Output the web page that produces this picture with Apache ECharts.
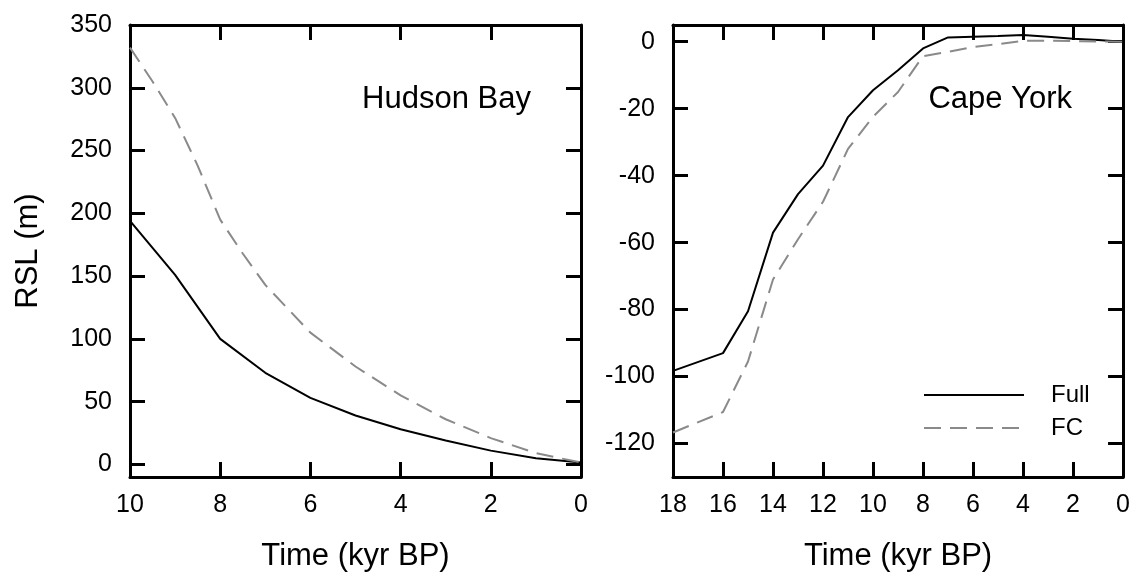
<!DOCTYPE html>
<html>
<head>
<meta charset="utf-8">
<script src="https://cdn.jsdelivr.net/npm/echarts@6/dist/echarts.min.js"></script>
<style>
  html, body { margin: 0; padding: 0; background: #fff; }
  #chart { width: 1133px; height: 577px; }
</style>
</head>
<body>
<div id="chart"></div>
<script>
// Hudson Bay (left panel)
const hbFullTime = [10, 9, 8, 7, 6, 5, 4, 3, 2, 1, 0];
const hbFullRsl = [194, 151, 100, 73, 53, 39, 28, 19, 11, 5, 1.5];
const hbFcTime = [10, 9.5, 9, 8.5, 8, 7.5, 7, 6, 5, 4, 3, 2, 1, 0];
const hbFcRsl = [332, 305, 276, 238, 195, 168, 143, 105, 78, 55, 36, 21, 9, 1.5];
const hbTicks = [0, 50, 100, 150, 200, 250, 300, 350];

// Cape York (right panel)
const cyTime = [18, 16, 15, 14, 13, 12, 11, 10, 9, 8, 7, 6, 5, 4, 3, 2, 1, 0];
const cyFull = [-98.3, -93, -80.5, -57, -45.5, -37, -22.5, -14.5, -8.5, -2, 1.3, 1.5, 1.7, 2, 1.5, 0.9, 0.5, 0];
const cyFc = [-116.7, -110.6, -95.5, -71, -59, -47.8, -32, -22.4, -15, -4.3, -3, -1.6, -0.7, 0.3, 0.3, 0.2, 0.1, 0];
const cyTicks = [-120, -100, -80, -60, -40, -20, 0];

const seriesNames = ["Full", "FC"];

let myChart = echarts.init(document.getElementById("chart"));

const font = "Liberation Sans, Arial, sans-serif";
const black = "#000";
const grey = "#8a8a8a";

function pairs(xs, ys) {
  return xs.map((x, i) => [x, ys[i]]);
}

// common axis look: thick frame, ticks pointing inward
function frame(extra) {
  return Object.assign({
    type: "value",
    axisLine: { show: true, onZero: false, lineStyle: { color: black, width: 3 } },
    axisTick: { show: true, inside: true, length: 15, lineStyle: { color: black, width: 3 } },
    splitLine: { show: false },
    axisLabel: { show: false }
  }, extra);
}

function timeAxis(gridIndex, max, position, showName) {
  let ax = frame({ gridIndex: gridIndex, position: position, min: 0, max: max, interval: 2, inverse: true });
  if (showName) {
    ax.axisLabel = { show: true, color: black, fontSize: 25, fontFamily: font, margin: 16 };
    ax.name = "Time (kyr BP)";
    ax.nameLocation = "middle";
    ax.nameGap = 64;
    ax.nameTextStyle = { color: black, fontSize: 31, fontFamily: font };
  }
  return ax;
}

function rslAxis(gridIndex, min, max, ticks, position, showLabel) {
  let ax = frame({ gridIndex: gridIndex, position: position, min: min, max: max });
  ax.axisTick.customValues = ticks;
  if (showLabel) {
    ax.axisLabel = { show: true, color: black, fontSize: 25, fontFamily: font, margin: 18, customValues: ticks };
  }
  return ax;
}

let yLeft = rslAxis(0, -10, 350, hbTicks, "left", true);
yLeft.name = "RSL (m)";
yLeft.nameLocation = "middle";
yLeft.nameGap = 86;
yLeft.nameRotate = 90;
yLeft.nameTextStyle = { color: black, fontSize: 31, fontFamily: font };

let option = {
  animation: false,
  backgroundColor: "#fff",
  grid: [
    { left: 130, top: 25, width: 451, height: 452 },
    { left: 673, top: 25, width: 451, height: 452 }
  ],
  xAxis: [
    timeAxis(0, 10, "bottom", true),
    timeAxis(0, 10, "top", false),
    timeAxis(1, 18, "bottom", true),
    timeAxis(1, 18, "top", false)
  ],
  yAxis: [
    yLeft,
    rslAxis(0, -10, 350, hbTicks, "right", false),
    rslAxis(1, -130, 5, cyTicks, "left", true),
    rslAxis(1, -130, 5, cyTicks, "right", false)
  ],
  legend: {
    data: seriesNames,
    orient: "vertical",
    left: 918,
    top: 378,
    itemWidth: 100,
    itemHeight: 14,
    itemGap: 9,
    selectedMode: false,
    itemStyle: { opacity: 0, color: "transparent", borderWidth: 0 },
    textStyle: { color: black, fontSize: 24, fontFamily: font, padding: [0, 0, 0, 22] }
  },
  graphic: [
    {
      type: "text", right: 1133 - 531, top: 84,
      style: { text: "Hudson Bay", fill: black, font: "31px " + font }
    },
    {
      type: "text", right: 1133 - 1072, top: 84,
      style: { text: "Cape York", fill: black, font: "31px " + font }
    }
  ],
  series: [
    {
      name: seriesNames[0], type: "line", xAxisIndex: 0, yAxisIndex: 0,
      data: pairs(hbFullTime, hbFullRsl), symbol: "none",
      lineStyle: { color: black, width: 2 }, itemStyle: { color: black }
    },
    {
      name: seriesNames[1], type: "line", xAxisIndex: 0, yAxisIndex: 0,
      data: pairs(hbFcTime, hbFcRsl), symbol: "none",
      lineStyle: { color: grey, width: 2, type: [17, 9] }, itemStyle: { color: grey }
    },
    {
      name: seriesNames[0], type: "line", xAxisIndex: 2, yAxisIndex: 2,
      data: pairs(cyTime, cyFull), symbol: "none",
      lineStyle: { color: black, width: 2 }, itemStyle: { color: black }
    },
    {
      name: seriesNames[1], type: "line", xAxisIndex: 2, yAxisIndex: 2,
      data: pairs(cyTime, cyFc), symbol: "none",
      lineStyle: { color: grey, width: 2, type: [17, 9] }, itemStyle: { color: grey }
    }
  ]
};

myChart.setOption(option, true);
window.addEventListener("resize", () => {
  myChart.resize();
});
</script>
</body>
</html>
